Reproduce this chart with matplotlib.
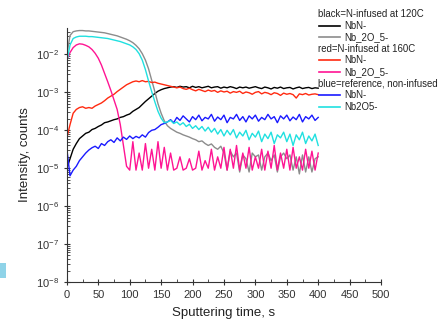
import numpy as np
import matplotlib
matplotlib.use("Agg")
import matplotlib.pyplot as plt
from matplotlib.lines import Line2D
from matplotlib.patches import Rectangle
from matplotlib.ticker import MultipleLocator, FixedLocator, NullFormatter

plt.rcParams['font.family'] = ['Liberation Sans', 'DejaVu Sans']
plt.rcParams['mathtext.default'] = 'regular'

# sputtering time, s (one reading every 5 s)
time_s = np.arange(0, 401, 5)

# log10 of intensity
nbn_120 = [-5.0, -4.75, -4.5, -4.35, -4.22, -4.15, -4.08, -4.05, -3.98, -3.95,
           -3.9, -3.86, -3.8, -3.78, -3.75, -3.72, -3.7, -3.66, -3.64, -3.6,
           -3.57, -3.5, -3.45, -3.4, -3.32, -3.24, -3.17, -3.1, -3.03, -2.97,
           -2.93, -2.9, -2.88, -2.86, -2.85, -2.87, -2.84, -2.86, -2.85, -2.88,
           -2.84, -2.87, -2.85, -2.88, -2.86, -2.84, -2.88, -2.86, -2.85, -2.89,
           -2.86, -2.88, -2.85, -2.87, -2.9, -2.86, -2.88, -2.86, -2.89, -2.87,
           -2.85, -2.88, -2.9, -2.86, -2.88, -2.91, -2.87, -2.89, -2.86, -2.9,
           -2.88, -2.87, -2.91, -2.88, -2.86, -2.9, -2.88, -2.87, -2.9, -2.88,
           -2.89]
nb2o5_120 = [-2.0, -1.5, -1.4, -1.38, -1.37, -1.37, -1.38, -1.38, -1.39, -1.4,
             -1.41, -1.42, -1.43, -1.45, -1.47, -1.49, -1.51, -1.54, -1.57, -1.6,
             -1.64, -1.69, -1.76, -1.85, -1.98, -2.15, -2.38, -2.68, -2.98, -3.3,
             -3.55, -3.75, -3.88, -3.95, -4.0, -4.05, -4.08, -4.12, -4.15, -4.18,
             -4.22, -4.25, -4.3, -4.28, -4.35, -4.4, -4.36, -4.45, -4.5, -4.42,
             -4.6, -5.05, -4.55, -4.7, -4.6, -5.1, -4.65, -4.75, -5.1, -4.6,
             -4.7, -4.65, -5.05, -4.7, -4.6, -4.8, -4.65, -5.1, -4.7, -4.6,
             -4.75, -4.65, -5.05, -4.7, -5.15, -4.65, -5.1, -4.7, -5.1, -4.75,
             -4.7]
nbn_160 = [-4.2, -3.85, -3.55, -3.45, -3.4, -3.38, -3.42, -3.4, -3.42, -3.36,
           -3.32, -3.28, -3.22, -3.15, -3.1, -3.05, -2.98, -2.92, -2.86, -2.8,
           -2.76, -2.72, -2.7, -2.72, -2.69, -2.72, -2.71, -2.74, -2.73, -2.76,
           -2.78, -2.8, -2.82, -2.84, -2.86, -2.88, -2.86, -2.9, -2.92, -2.89,
           -2.93, -2.96, -2.92, -2.95, -2.98, -2.94, -2.97, -2.95, -3.0, -2.96,
           -2.99, -2.97, -3.02, -2.98, -3.0, -2.97, -3.03, -2.99, -3.01, -3.05,
           -3.0, -2.98, -3.04, -3.0, -3.02, -3.06, -3.01, -3.03, -3.08, -3.02,
           -3.05, -3.03, -3.06, -3.15, -3.04, -3.06, -3.03, -3.07, -3.05, -3.04,
           -3.06]
nb2o5_160 = [-2.15, -1.95, -1.82, -1.75, -1.72, -1.73, -1.76, -1.8, -1.87, -1.97,
             -2.1, -2.28, -2.5, -2.72, -2.95, -3.2, -3.45, -3.85, -4.4, -4.95,
             -5.05, -4.3, -5.05, -4.6, -5.05, -4.35, -5.0, -4.5, -5.05, -4.3,
             -5.0, -4.45, -5.05, -4.6, -5.05, -5.0, -4.7, -5.05, -5.0, -4.75,
             -5.05, -5.0, -4.55, -5.05, -4.8, -5.0, -4.5, -5.05, -4.7, -5.0,
             -4.45, -5.05, -4.5, -5.0, -4.4, -5.05, -4.6, -5.0, -4.45, -5.05,
             -4.7, -5.0, -4.5, -5.05, -4.55, -5.0, -4.4, -5.05, -4.6, -5.0,
             -4.5, -5.05, -4.45, -5.0, -4.7, -5.05, -4.5, -5.0, -4.55, -5.05,
             -4.6]
nbn_ref = [-4.5, -5.2, -5.05, -4.95, -4.8, -4.7, -4.6, -4.52, -4.46, -4.42,
           -4.48, -4.35, -4.4, -4.3, -4.25, -4.32, -4.2, -4.28, -4.18, -4.24,
           -4.15, -4.22, -4.16, -4.2, -4.12, -4.18, -4.06, -4.0, -3.98, -3.92,
           -3.85, -3.82, -3.78, -3.72, -3.8, -3.66, -3.74, -3.62, -3.7, -3.78,
           -3.64, -3.72, -3.6, -3.75, -3.66, -3.7, -3.58, -3.76, -3.65, -3.72,
           -3.6, -3.8, -3.66, -3.7, -3.58, -3.74, -3.64, -3.78, -3.62, -3.7,
           -3.6, -3.76, -3.66, -3.72, -3.58, -3.7, -3.64, -3.8, -3.62, -3.7,
           -3.6, -3.75, -3.65, -3.72, -3.58, -3.78, -3.64, -3.7, -3.6, -3.74,
           -3.66]
nb2o5_ref = [-2.2, -1.75, -1.58, -1.54, -1.52, -1.52, -1.52, -1.53, -1.53, -1.54,
             -1.55, -1.56, -1.57, -1.58, -1.6, -1.62, -1.64, -1.66, -1.69, -1.72,
             -1.75, -1.8, -1.87, -1.98, -2.15, -2.4, -2.7, -2.98, -3.25, -3.5,
             -3.68, -3.8, -3.78, -3.74, -3.82, -3.78, -3.86, -3.8, -3.9, -3.84,
             -3.95, -3.88, -3.98, -3.9, -4.02, -3.92, -4.05, -3.95, -4.1, -3.98,
             -4.15, -4.0, -4.12, -3.98, -4.2, -4.05, -4.15, -4.0, -4.25, -4.08,
             -4.18, -4.02, -4.3, -4.1, -4.22, -4.05, -4.35, -4.12, -4.2, -4.05,
             -4.3, -4.1, -4.4, -4.12, -4.25, -4.05, -4.35, -4.15, -4.28, -4.1,
             -4.4]

series = [
    (nbn_120, 'black'),
    (nb2o5_120, '#8c8c8c'),
    (nbn_160, '#ff2a10'),
    (nb2o5_160, '#ff1493'),
    (nbn_ref, '#1a1aff'),
    (nb2o5_ref, '#20e0e0'),
]

fig = plt.figure(figsize=(4.4, 3.21), dpi=100)
ax = fig.add_axes([0.152, 0.1215, 0.714, 0.7915])

for vals, col in series:
    ax.plot(time_s, 10.0 ** np.array(vals), color=col, lw=1.0)

ax.set_yscale('log')
ax.set_xlim(0, 500)
ax.set_ylim(1e-8, 0.05)
ax.xaxis.set_major_locator(MultipleLocator(50))
ax.xaxis.set_minor_locator(MultipleLocator(25))
decades = [10.0 ** e for e in range(-8, -1)]
ax.yaxis.set_major_locator(FixedLocator(decades))
minors = [m * d for d in [10.0 ** e for e in range(-8, -1)] for m in range(2, 10)
          if m * d < 0.05]
ax.yaxis.set_minor_locator(FixedLocator(minors))
ax.yaxis.set_minor_formatter(NullFormatter())
ax.spines['top'].set_visible(False)
ax.spines['right'].set_visible(False)
for s in ['left', 'bottom']:
    ax.spines[s].set_color('#333333')
ax.tick_params(which='major', direction='inout', length=5, width=0.8,
               labelsize=8, colors='#333333', pad=3)
ax.tick_params(which='minor', direction='in', length=2.5, width=0.6,
               colors='#333333')
ax.set_xlabel('Sputtering time, s', fontsize=9.5, color='#222222')
ax.set_ylabel('Intensity, counts', fontsize=9.5, color='#222222')
ax.xaxis.set_label_coords(0.5, -0.1)
ax.yaxis.set_label_coords(-0.115, 0.5)

# hand-drawn legend on the right, as in the original slide
legend_rows = [
    ('black=N-infused at 120C', None),
    ('NbN-', 'black'),
    ('Nb_2O_5-', '#8c8c8c'),
    ('red=N-infused at 160C', None),
    ('NbN-', '#ff2a10'),
    ('Nb_2O_5-', '#ff1493'),
    ('blue=reference, non-infused', None),
    ('NbN-', '#1a1aff'),
    ('Nb2O5-', '#20e0e0'),
]
W, H = 440.0, 321.0
y0, dy = 14.0, 11.6
for i, (label, col) in enumerate(legend_rows):
    yp = 1 - (y0 + i * dy) / H
    if col is None:
        fig.text(318 / W, yp, label, fontsize=6.9, color='#222222', va='center')
    else:
        fig.add_artist(Line2D([319 / W, 340 / W], [yp, yp], color=col, lw=1.2))
        fig.text(344 / W, yp, label, fontsize=6.9, color='#222222', va='center')

# small blue slide marker at the left edge
fig.add_artist(Rectangle((0, 1 - 278 / H), 6 / W, 15 / H, transform=fig.transFigure,
                         color='#8fd3e8', lw=0))

fig.savefig('out.png', dpi=100)
